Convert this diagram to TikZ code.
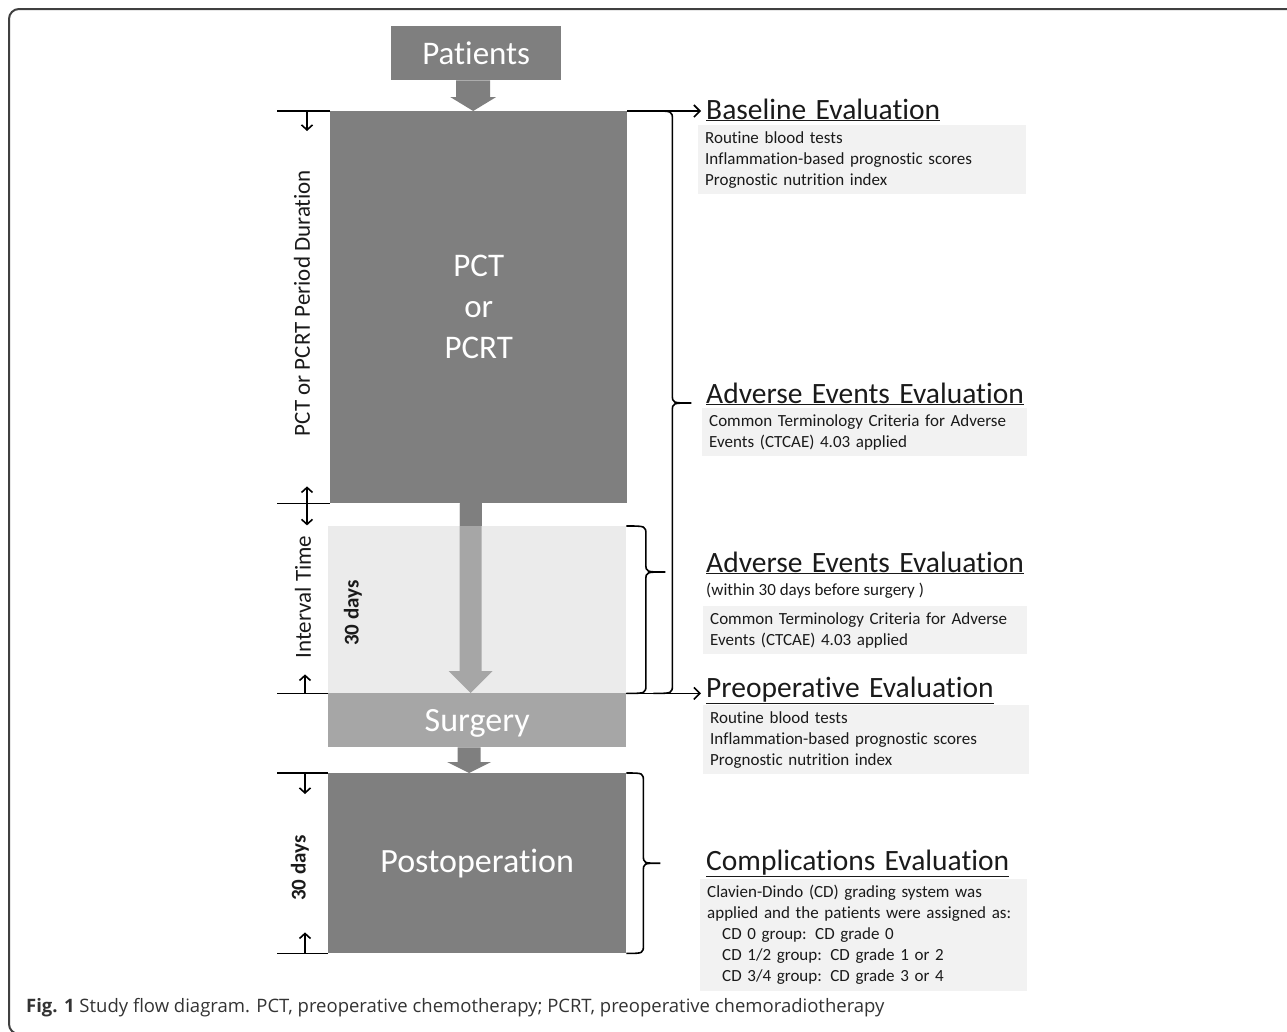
\documentclass[tikz,border=0pt]{standalone}
\usepackage{fontspec}
\setmainfont{Carlito}[Ligatures=NoCommon]
\newfontfamily\headfont{Carlito}[Ligatures=NoCommon, WordSpace=1.4]
\newfontfamily\capfont{Open Sans}
\usetikzlibrary{calc,arrows.meta}

\definecolor{boxdark}{HTML}{7F7F7F}
\definecolor{boxmid}{HTML}{A6A6A6}
\definecolor{boxpale}{HTML}{EBEBEB}
\definecolor{notefill}{HTML}{F2F2F2}
\definecolor{ink}{HTML}{1A1A1A}

% block arrow: from, to, shaft half width, head half width, head length, colour
\newcommand{\blockarrow}[6]{%
  \fill[#6] let \p1=(#1), \p2=(#2) in
    (\x1-#3,\y1) -- (\x1+#3,\y1) -- (\x1+#3,\y2+#5) -- (\x1+#4,\y2+#5)
    -- (\x1,\y2) -- (\x1-#4,\y2+#5) -- (\x1-#3,\y2+#5) -- cycle;}
% brace on the right: top end, bottom end, level of tip, depth
\newcommand{\sidebrace}[4]{%
  \draw[rule] let \p1=(#1), \p2=(#2), \p3=(#3) in
    (\x1,\y1) .. controls (\x1+#4,\y1) .. (\x1+#4,\y1-9pt) -- (\x1+#4,\y3+8pt)
      .. controls (\x1+#4,\y3) .. (\x1+2*#4,\y3)
    (\x2,\y2) .. controls (\x2+#4,\y2) .. (\x2+#4,\y2+9pt) -- (\x2+#4,\y3-8pt)
      .. controls (\x2+#4,\y3) .. (\x2+2*#4,\y3);}

\begin{document}
\begin{tikzpicture}[x=1pt, y=-1pt,
    panel/.style={anchor=north west, inner sep=0pt, text=white, align=center},
    heading/.style={anchor=base west, inner sep=0pt, text=ink, font=\headfont\fontsize{29.5}{34}\selectfont},
    note/.style={anchor=north west, fill=notefill, align=left, inner xsep=7pt, inner ysep=6pt,
      text=ink, font=\fontsize{17}{21}\selectfont},
    sidelabel/.style={rotate=90, inner sep=0pt, text=ink, font=\fontsize{23}{27}\selectfont},
    rule/.style={line width=1.6pt, black},
    tick/.style={rule, -{Straight Barb[length=5pt,width=11pt]}},
    twotick/.style={rule, {Straight Barb[length=5pt,width=11pt]}-{Straight Barb[length=5pt,width=11pt]}},
    lead/.style={rule, -{Straight Barb[length=6pt,width=12pt]}, shorten >=5pt}]
  \useasboundingbox (0,0) rectangle (1287,1031);
  \draw[line width=2pt, black!75, rounded corners=10pt] (1320,9) -- (9,9) -- (9,1034) -- (1320,1034);

  % stages
  \node[panel, fill=boxdark, minimum width=170pt, minimum height=54pt, font=\fontsize{33}{40}\selectfont]
    (patients) at (391,26) {Patients};
  \node[panel, fill=boxdark, minimum width=297pt, minimum height=392pt, font=\fontsize{33}{41}\selectfont]
    (pct) at (330,111) {PCT\\or\\PCRT};
  \node[panel, fill=boxpale, minimum width=298pt, minimum height=167pt] (interval) at (328,526) {};
  \node[panel, fill=boxmid, minimum width=298pt, minimum height=54pt, text depth=0pt,
    font=\fontsize{34}{40}\selectfont] (surgery) at (328,693) {Surgery};
  \node[panel, fill=boxdark, minimum width=298pt, minimum height=180pt, font=\fontsize{34}{40}\selectfont]
    (postop) at (328,773) {Postoperation};

  \blockarrow{[xshift=-3pt]patients.south}{[xshift=-6pt]pct.north}{17pt}{23pt}{14pt}{boxdark}
  \blockarrow{[xshift=-8pt]pct.south}{[xshift=-7pt]surgery.north}{11pt}{22pt}{22pt}{boxmid}
  \fill[boxdark] ([xshift=-19pt]pct.south) rectangle ([xshift=4.5pt]interval.north);
  \blockarrow{[xshift=-8pt]surgery.south}{[xshift=-8pt]postop.north}{11.5pt}{22pt}{11pt}{boxdark}

  % time marks on the left
  \draw[rule] (pct.north west) -- ++(-53,0);
  \draw[rule] (pct.south west) -- ++(-53,0);
  \draw[rule] (interval.south west) -- ++(-51,0);
  \draw[rule] (postop.north west) -- ++(-51,0);
  \draw[rule] (postop.south west) -- ++(-51,0);
  \draw[tick] ([xshift=-23pt]pct.north west) -- ++(0,20);
  \draw[twotick] ([xshift=-23pt,yshift=17pt]pct.south west) -- ++(0,39);
  \draw[tick] ([xshift=-23pt]interval.south west) -- ++(0,-19);
  \draw[tick] ([xshift=-23pt]postop.north west) -- ++(0,21);
  \draw[tick] ([xshift=-23pt]postop.south west) -- ++(0,-21);

  \node[sidelabel] (periodlbl) at (302,303) {PCT or PCRT Period Duration};
  \node[sidelabel] (intervallbl) at (303,597) {Interval Time};
  \node[sidelabel, font=\bfseries\fontsize{21}{25}\selectfont] (daysa) at (353,613) {30 days};
  \node[sidelabel, font=\bfseries\fontsize{21}{25}\selectfont] (daysb) at (300,868) {30 days};

  % evaluations
  \node[heading] (base) at (706,119) {\underline{Baseline Evaluation}};
  \node[note, minimum width=328pt, minimum height=68pt, text width=314pt] (basenote) at (698,125)
    {Routine blood tests\\Inflammation-based prognostic scores\\Prognostic nutrition index};
  \node[heading] (adva) at (706,403) {\underline{Adverse Events Evaluation}};
  \node[note, minimum width=325pt, minimum height=48pt, text width=311pt] (advanote) at (702,408)
    {Common Terminology Criteria for Adverse\\Events (CTCAE) 4.03 applied};
  \node[heading] (advb) at (706,572) {\underline{Adverse Events Evaluation}};
  \node[anchor=base west, inner sep=0pt, text=ink, font=\fontsize{17}{21}\selectfont] (within) at (706,595)
    {(within 30 days before surgery )};
  \node[note, minimum width=324pt, minimum height=47pt, text width=310pt] (advbnote) at (703,606)
    {Common Terminology Criteria for Adverse\\Events (CTCAE) 4.03 applied};
  \node[heading] (preop) at (706,697) {\underline{Preoperative Evaluation}};
  \node[note, minimum width=326pt, minimum height=68pt, text width=312pt] (preopnote) at (703,705)
    {Routine blood tests\\Inflammation-based prognostic scores\\Prognostic nutrition index};
  \node[heading] (comp) at (706,870) {\underline{Complications Evaluation}};
  \node[note, minimum width=327pt, minimum height=109pt, text width=313pt] (compnote) at (700,879)
    {Clavien-Dindo (CD) grading system was\\applied and the patients were assigned as:\\
     \hspace*{15pt}CD 0 group: CD grade 0\\\hspace*{15pt}CD 1/2 group: CD grade 1 or 2\\
     \hspace*{15pt}CD 3/4 group: CD grade 3 or 4};

  % leads and braces
  \coordinate (bigtop) at ([xshift=26pt]pct.north east);
  \coordinate (bigbot) at ([xshift=27pt]interval.south east);
  \draw[lead] (pct.north east) -- (pct.north east -| base.west);
  \draw[lead] (interval.south east) -- (interval.south east -| preop.west);
  \sidebrace{bigtop}{bigbot}{adva.base}{19pt}
  \sidebrace{interval.north east}{interval.south east}{advb.base}{19.5pt}
  \sidebrace{postop.north east}{postop.south east}{postop.east}{17pt}

  \node[anchor=base west, inner sep=0pt, text=black!80, font=\capfont\fontsize{18.5}{22}\selectfont]
    (caption) at (26,1012) {\textbf{Fig. 1} Study flow diagram. PCT, preoperative chemotherapy; PCRT, preoperative chemoradiotherapy};
\end{tikzpicture}
\end{document}
